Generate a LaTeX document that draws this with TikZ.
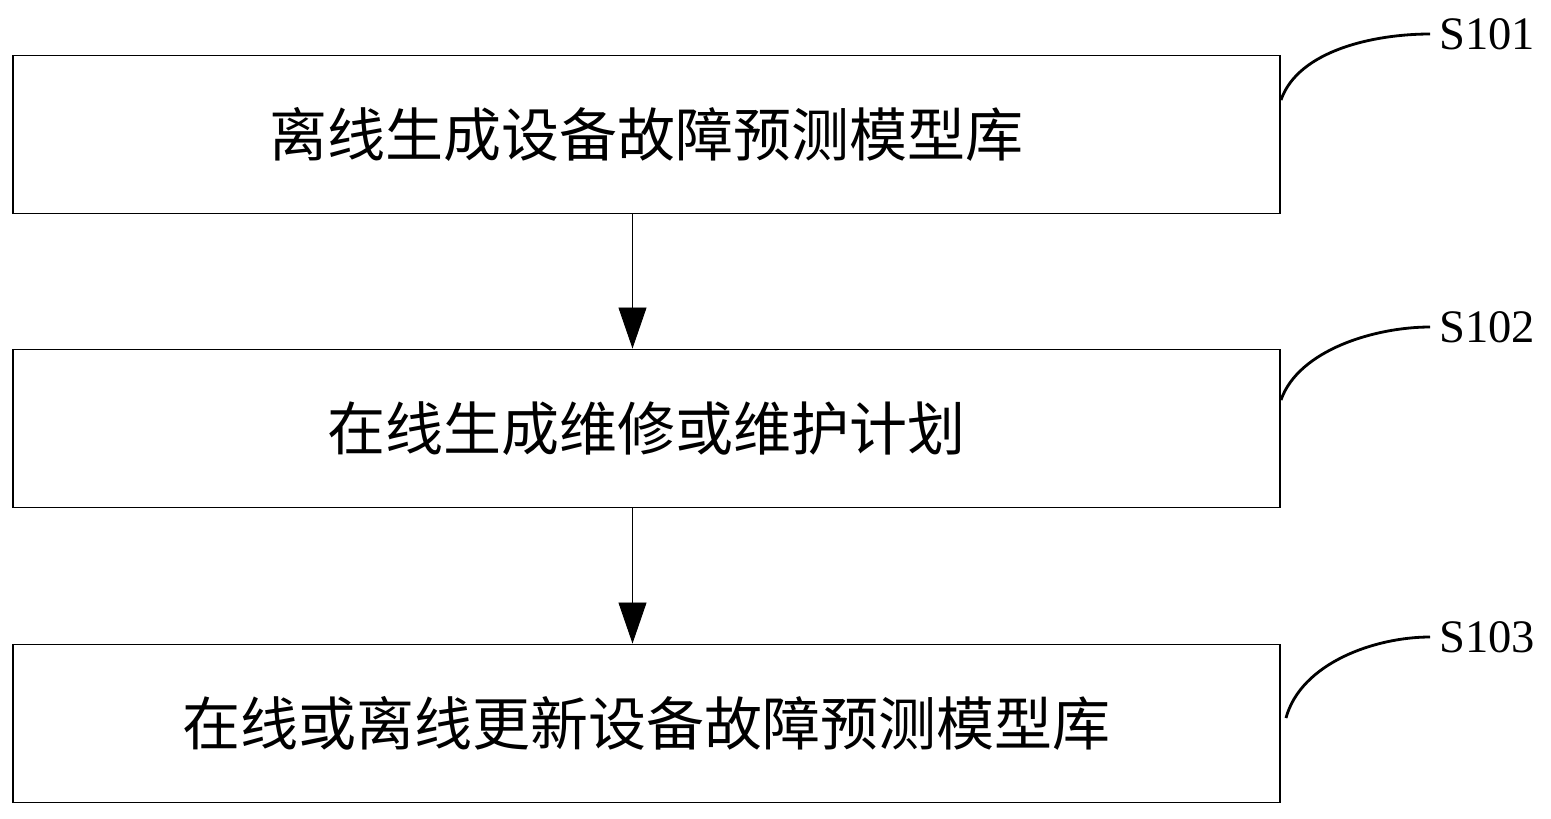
\documentclass[tikz,border=0pt]{standalone}
\usepackage{fontspec}
\setmainfont{Liberation Serif}
\newfontfamily\cjk{Noto Sans CJK SC}
\usetikzlibrary{positioning, arrows.meta}
\usetikzlibrary{calc}

\begin{document}
\begin{tikzpicture}[
	stepbox/.style={draw, line width=1.1pt, minimum width=25.34cm, minimum height=3.16cm, anchor=center, font=\cjk\fontsize{33}{38}\selectfont},
	steplabel/.style={anchor=west, inner sep=0pt, font=\fontsize{26.5}{30}\selectfont},
	leadline/.style={line width=1.6pt},
	flow/.style={line width=0.5pt, -{Triangle[length=0.82cm,width=0.56cm]}}]
	\useasboundingbox (0,0) rectangle (31.02,-16.36);
		% steps
		\node[stepbox] (b1) at (12.93,-2.69) {离线生成设备故障预测模型库};
		\node[stepbox] (b2) at (12.93,-8.57) {在线生成维修或维护计划};
		\node[stepbox] (b3) at (12.93,-14.47) {在线或离线更新设备故障预测模型库};
		
		\node[steplabel] (s1) at (28.78,-0.68) {S101};
		\node[steplabel] (s2) at (28.78,-6.54) {S102};
		\node[steplabel] (s3) at (28.78,-12.74) {S103};
		
		\draw[flow] ([xshift=-0.28cm]b1.south) -- ([xshift=-0.28cm]b2.north);
		\draw[flow] ([xshift=-0.28cm]b2.south) -- ([xshift=-0.28cm]b3.north);
		
		\draw[leadline] ([yshift=0.69cm]b1.east) .. controls +(0.35,1.0) and +(-1.1,0) .. ([xshift=-0.18cm]s1.west);
		\draw[leadline] ([yshift=0.57cm]b2.east) .. controls +(0.35,1.0) and +(-1.1,0) .. ([xshift=-0.18cm]s2.west);
		\draw[leadline] ([xshift=0.1cm,yshift=0.11cm]b3.east) .. controls +(0.3,1.1) and +(-1.1,0) .. ([xshift=-0.18cm]s3.west);
	\end{tikzpicture}
\end{document}
